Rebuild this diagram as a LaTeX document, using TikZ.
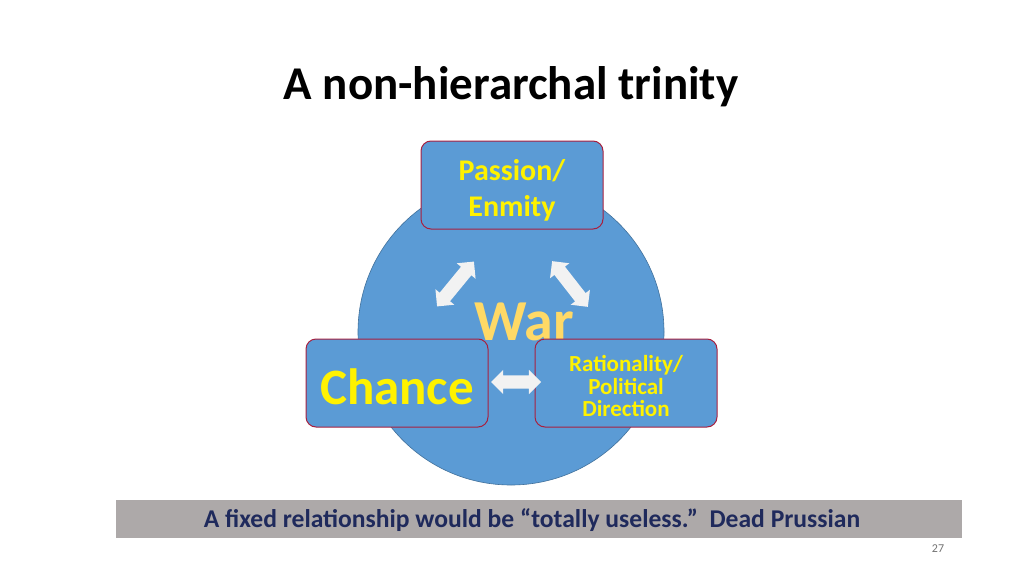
\documentclass[tikz,border=0pt]{standalone}
\usepackage{fontspec}
\setmainfont{Carlito}
\usetikzlibrary{shapes.arrows}
\definecolor{trinblue}{HTML}{5B9BD5}
\definecolor{trinedge}{HTML}{41719C}
\definecolor{boxedge}{HTML}{A8203F}
\definecolor{wargold}{HTML}{FFD966}
\definecolor{quotenavy}{HTML}{1F2A5C}
\definecolor{bargray}{HTML}{ADA9A9}
\tikzset{
  corner/.style={draw=boxedge, fill=trinblue, line width=1pt, rounded corners=10pt,
    minimum width=182pt, minimum height=88pt, inner sep=0pt},
  cornertext/.style={text=yellow, align=center, inner sep=0pt},
  twoway/.style={double arrow, fill=black!5, draw=none, inner xsep=0pt, inner ysep=6.5pt,
    minimum height=58pt, double arrow head extend=5.5pt}
}
\begin{document}
\begin{tikzpicture}[x=1pt,y=-1pt]
      \fill[white] (0,0) rectangle (1024,575);
      \useasboundingbox (0,0) rectangle (1024,575);
      \node (title) at (511,87) {\fontsize{47}{54}\selectfont\bfseries A non-hierarchal trinity};
      \draw[fill=trinblue, draw=trinedge, line width=0.6pt] (511,332) circle (153);
      \node[text=wargold, font=\fontsize{58}{64}\selectfont\bfseries] (war) at (524,322) {War};
      \node[corner, label={[cornertext, yshift=-5pt, font=\fontsize{30}{36}\selectfont\bfseries]center:Passion/\\Enmity}]
        (passion) at (512,185) {};
      \node[corner, label={[cornertext, yshift=-4pt, font=\fontsize{51}{56}\selectfont\bfseries]center:Chance}]
        (chance) at (397,383) {};
      \node[corner, label={[cornertext, yshift=-3pt, font=\fontsize{23}{22.5}\selectfont\bfseries]center:Rationality/\\Political\\Direction}]
        (reason) at (626,383) {};
      \begin{scope}
        \node[twoway, rotate=50.6] (pc) at (455.5,284) {};
        \node[twoway, rotate=-52] (pr) at (570,284) {};
        \node[twoway, minimum height=50pt] (cr) at (516,382) {};
      \end{scope}
      \fill[bargray] (116,500) rectangle (962,538);
      \node[text=quotenavy, font=\fontsize{25.6}{30}\selectfont\bfseries] (quote) at (532,520)
        {A fixed relationship would be “totally useless.”\ \ Dead Prussian};
      \node[text=black!55, font=\fontsize{12}{14}\selectfont] (page) at (938,549) {27};
    \end{tikzpicture}
\end{document}
